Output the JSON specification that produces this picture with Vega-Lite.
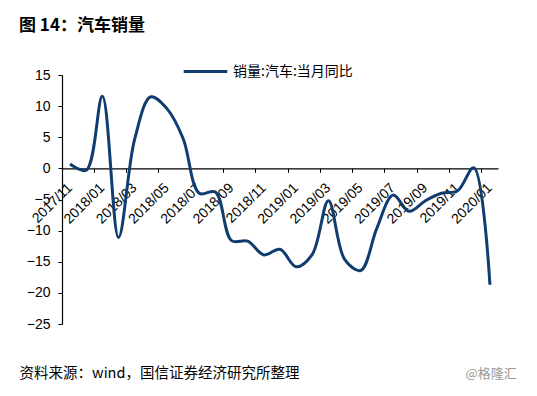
{
  "$schema": "https://vega.github.io/schema/vega-lite/v6.json",
  "width": 436,
  "height": 249,
  "autosize": "none",
  "padding": {"left": 62, "top": 75, "right": 39, "bottom": 72},
  "background": "white",
  "title": {
    "text": "图 14：汽车销量",
    "anchor": "start",
    "frame": "group",
    "dx": -43,
    "offset": 13,
    "font": "Noto Sans CJK SC",
    "fontSize": 17,
    "fontWeight": "bold",
    "color": "#000000"
  },
  "config": {
    "view": {"stroke": null},
    "axis": {"labelFont": "Liberation Sans", "titleFont": "Noto Sans CJK SC"}
  },
  "data": {
    "values": [
      {"month": "2017/11", "yoy": 0.7, "series": "销量:汽车:当月同比"},
      {"month": "2017/12", "yoy": -0.3, "series": "销量:汽车:当月同比"},
      {"month": "2018/01", "yoy": 11.6, "series": "销量:汽车:当月同比"},
      {"month": "2018/02", "yoy": -11.1, "series": "销量:汽车:当月同比"},
      {"month": "2018/03", "yoy": 4.7, "series": "销量:汽车:当月同比"},
      {"month": "2018/04", "yoy": 11.5, "series": "销量:汽车:当月同比"},
      {"month": "2018/05", "yoy": 9.6, "series": "销量:汽车:当月同比"},
      {"month": "2018/06", "yoy": 4.8, "series": "销量:汽车:当月同比"},
      {"month": "2018/07", "yoy": -4.0, "series": "销量:汽车:当月同比"},
      {"month": "2018/08", "yoy": -3.8, "series": "销量:汽车:当月同比"},
      {"month": "2018/09", "yoy": -11.6, "series": "销量:汽车:当月同比"},
      {"month": "2018/10", "yoy": -11.7, "series": "销量:汽车:当月同比"},
      {"month": "2018/11", "yoy": -13.9, "series": "销量:汽车:当月同比"},
      {"month": "2018/12", "yoy": -13.0, "series": "销量:汽车:当月同比"},
      {"month": "2019/01", "yoy": -15.8, "series": "销量:汽车:当月同比"},
      {"month": "2019/02", "yoy": -13.8, "series": "销量:汽车:当月同比"},
      {"month": "2019/03", "yoy": -5.2, "series": "销量:汽车:当月同比"},
      {"month": "2019/04", "yoy": -14.6, "series": "销量:汽车:当月同比"},
      {"month": "2019/05", "yoy": -16.4, "series": "销量:汽车:当月同比"},
      {"month": "2019/06", "yoy": -9.6, "series": "销量:汽车:当月同比"},
      {"month": "2019/07", "yoy": -4.3, "series": "销量:汽车:当月同比"},
      {"month": "2019/08", "yoy": -6.9, "series": "销量:汽车:当月同比"},
      {"month": "2019/09", "yoy": -5.2, "series": "销量:汽车:当月同比"},
      {"month": "2019/10", "yoy": -4.0, "series": "销量:汽车:当月同比"},
      {"month": "2019/11", "yoy": -3.6, "series": "销量:汽车:当月同比"},
      {"month": "2019/12", "yoy": 0.1, "series": "销量:汽车:当月同比"},
      {"month": "2020/01", "yoy": -18.7, "series": "销量:汽车:当月同比"}
    ]
  },
  "layer": [
    {
      "mark": {"type": "line", "interpolate": "catmull-rom", "strokeWidth": 3},
      "encoding": {
        "x": {
          "field": "month",
          "type": "ordinal",
          "sort": null,
          "bandPosition": 0.5,
          "scale": {"type": "band", "paddingInner": 0, "paddingOuter": 0},
          "axis": {
            "values": ["2017/11", "2018/01", "2018/03", "2018/05", "2018/07", "2018/09", "2018/11", "2019/01", "2019/03", "2019/05", "2019/07", "2019/09", "2019/11", "2020/01"],
            "offset": -155.6,
            "domain": false,
            "ticks": false,
            "grid": false,
            "labelAngle": -45,
            "labelAlign": "right",
            "labelBaseline": "middle",
            "labelPadding": 17,
            "labelFontSize": 14,
            "labelColor": "#000000",
            "labelOverlap": false,
            "title": "资料来源：wind，国信证券经济研究所整理",
            "titleX": -43,
            "titleY": 205,
            "titleAlign": "left",
            "titleAnchor": "start",
            "titleBaseline": "middle",
            "titleAngle": 0,
            "titleFontSize": 14.5,
            "titleFontWeight": "normal",
            "titleColor": "#000000"
          }
        },
        "y": {
          "field": "yoy",
          "type": "quantitative",
          "scale": {"domain": [-25, 15], "nice": false, "zero": false},
          "axis": {
            "values": [-25, -20, -15, -10, -5, 0, 5, 10, 15],
            "grid": false,
            "domainColor": "#000000",
            "domainWidth": 1.2,
            "tickColor": "#000000",
            "tickSize": 4,
            "labelPadding": 8,
            "labelFontSize": 14,
            "labelColor": "#000000",
            "title": "@格隆汇",
            "titleAngle": 0,
            "titleX": 403,
            "titleY": 298,
            "titleAlign": "left",
            "titleAnchor": "start",
            "titleBaseline": "middle",
            "titleFontSize": 13,
            "titleFontWeight": "normal",
            "titleColor": "#9a9a9a"
          }
        },
        "color": {
          "field": "series",
          "type": "nominal",
          "scale": {"range": ["#103d6f"]},
          "legend": {
            "orient": "none",
            "legendX": 120,
            "legendY": -27,
            "title": null,
            "symbolType": "stroke",
            "symbolSize": 1900,
            "symbolStrokeWidth": 3,
            "labelFont": "Noto Sans CJK SC",
            "labelFontSize": 14,
            "labelColor": "#000000",
            "labelOffset": 4,
            "labelLimit": 300
          }
        }
      }
    },
    {
      "mark": {"type": "point", "opacity": 0},
      "encoding": {
        "x": {
          "field": "month",
          "type": "ordinal",
          "sort": null,
          "scale": {"type": "band", "paddingInner": 0, "paddingOuter": 0},
          "axis": {
            "orient": "top",
            "values": ["2017/11", "2018/01", "2018/03", "2018/05", "2018/07", "2018/09", "2018/11", "2019/01", "2019/03", "2019/05", "2019/07", "2019/09", "2019/11", "2020/01"],
            "bandPosition": 0,
            "offset": -93.4,
            "labels": false,
            "grid": false,
            "domainColor": "#000000",
            "domainWidth": 1.2,
            "tickColor": "#000000",
            "tickSize": -4,
            "title": null
          }
        }
      }
    }
  ],
  "resolve": {"axis": {"x": "independent"}}
}
